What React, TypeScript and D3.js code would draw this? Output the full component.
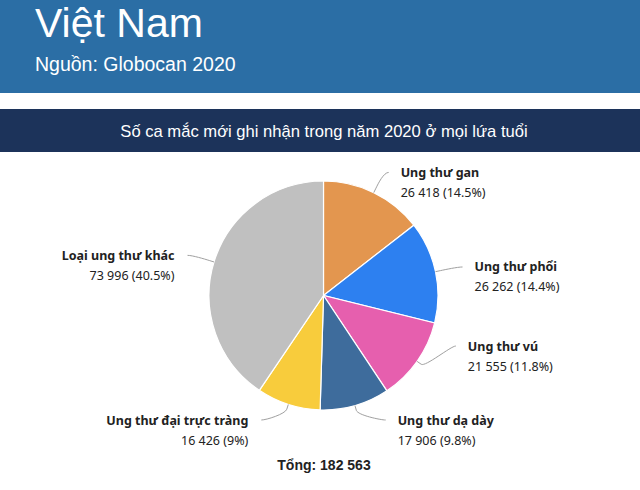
import React, { useEffect, useRef } from 'react';
import * as d3 from 'd3';

const title = 'Việt Nam';
const subtitle = 'Nguồn: Globocan 2020';
const chartTitle = 'Số ca mắc mới ghi nhận trong năm 2020 ở mọi lứa tuổi';

const categories = [
  'Ung thư gan',
  'Ung thư phổi',
  'Ung thư vú',
  'Ung thư dạ dày',
  'Ung thư đại trực tràng',
  'Loại ung thư khác'
];
const cases = [26418, 26262, 21555, 17906, 16426, 73996];
const colors = ['#e3964f', '#2d80f0', '#e65fae', '#3e6c9c', '#f8cc3c', '#c0c0c0'];

const W = 640;
const H = 490;

const App: React.FC = () => {
  const svgRef = useRef<SVGSVGElement>(null);

  useEffect(() => {
    if (!svgRef.current) return;
    const svg = d3.select(svgRef.current);
    svg.selectAll('*').remove();

    const locale = d3.formatLocale({ decimal: '.', thousands: ' ', grouping: [3], currency: ['', ''] });
    const fmt = locale.format(',d');

    // header bands
    svg.append('rect').attr('x', 0).attr('y', 0).attr('width', W).attr('height', 93).attr('fill', '#2b6ea5');
    svg.append('text')
      .attr('x', 35).attr('y', 37)
      .style('font-family', '"Liberation Sans", Arial, sans-serif')
      .style('font-size', '41px')
      .attr('fill', '#fff')
      .text(title);
    svg.append('text')
      .attr('x', 35).attr('y', 71)
      .style('font-family', '"Liberation Sans", Arial, sans-serif')
      .style('font-size', '19.5px')
      .attr('fill', '#fff')
      .text(subtitle);

    svg.append('rect').attr('x', 0).attr('y', 109).attr('width', W).attr('height', 43).attr('fill', '#1c335a');
    svg.append('text')
      .attr('x', 324).attr('y', 137)
      .attr('text-anchor', 'middle')
      .style('font-family', '"Liberation Sans", Arial, sans-serif')
      .style('font-size', '16.6px')
      .attr('fill', '#fff')
      .text(chartTitle);

    // pie
    const cx = 323.5;
    const cy = 295.5;
    const r = 114.5;
    const labelR = r + 22.5;
    const total = d3.sum(cases);

    const pie = d3.pie<number>().sort(null).value(d => d);
    const arcs = pie(cases);
    const arc = d3.arc<d3.PieArcDatum<number>>().innerRadius(0).outerRadius(r);

    const g = svg.append('g').attr('transform', `translate(${cx},${cy})`);
    g.selectAll('path.slice')
      .data(arcs)
      .enter()
      .append('path')
      .attr('class', 'slice')
      .attr('d', arc)
      .attr('fill', (_d, i) => colors[i])
      .attr('stroke', '#fff')
      .attr('stroke-width', 1.2);

    // label layout (natural position, then push apart on each side)
    const labels = arcs.map((a, i) => {
      const mid = (a.startAngle + a.endAngle) / 2;
      return {
        i,
        mid,
        right: mid < Math.PI,
        y: cy - labelR * Math.cos(mid)
      };
    });
    const maxY = 420;
    const spacing = 74;
    [true, false].forEach(side => {
      const s = labels.filter(l => l.right === side).sort((a, b) => a.y - b.y);
      for (let k = s.length - 1; k >= 0; k--) {
        s[k].y = Math.min(s[k].y, maxY);
        if (k < s.length - 1) s[k].y = Math.min(s[k].y, s[k + 1].y - spacing);
      }
    });

    labels.forEach(l => {
      const dir = l.right ? 1 : -1;
      const dy = Math.max(-labelR, Math.min(labelR, l.y - cy));
      const gx = cx + dir * Math.sqrt(labelR * labelR - dy * dy);
      const touch = [cx + r * Math.sin(l.mid), cy - r * Math.cos(l.mid)];
      const brk = [cx + (r + 5) * Math.sin(l.mid), cy - (r + 5) * Math.cos(l.mid)];
      const ex = gx + dir * 5;
      const path = d3.path();
      path.moveTo(ex, l.y);
      path.bezierCurveTo(ex - dir * 5, l.y, 2 * brk[0] - touch[0], 2 * brk[1] - touch[1], brk[0], brk[1]);
      path.lineTo(touch[0], touch[1]);
      svg.append('path')
        .attr('d', path.toString())
        .attr('fill', 'none')
        .attr('stroke', '#a0a0a0')
        .attr('stroke-width', 1);

      const tx = l.right ? gx + 17 : gx - 18;
      const pct = +(cases[l.i] / total * 100).toFixed(1);
      const t = svg.append('text')
        .attr('text-anchor', l.right ? 'start' : 'end')
        .style('font-family', '"Noto Sans", "Open Sans", sans-serif')
        .style('font-size', '12.5px')
        .attr('fill', '#222');
      t.append('tspan')
        .attr('x', tx).attr('y', l.y + 4.5)
        .style('font-weight', 'bold')
        .text(categories[l.i]);
      t.append('tspan')
        .attr('x', tx).attr('y', l.y + 24.5)
        .text(`${fmt(cases[l.i])} (${pct}%)`);
    });

    svg.append('text')
      .attr('x', 324).attr('y', 470)
      .attr('text-anchor', 'middle')
      .style('font-family', '"Liberation Sans", Arial, sans-serif')
      .style('font-size', '14px')
      .style('font-weight', 'bold')
      .attr('fill', '#222')
      .text(`Tổng: ${fmt(total)}`);
  }, []);

  return (
    <svg
      ref={svgRef}
      width={W}
      height={H}
      style={{ position: 'absolute', left: 0, top: 0, background: '#fff' }}
    />
  );
};

export default App;
